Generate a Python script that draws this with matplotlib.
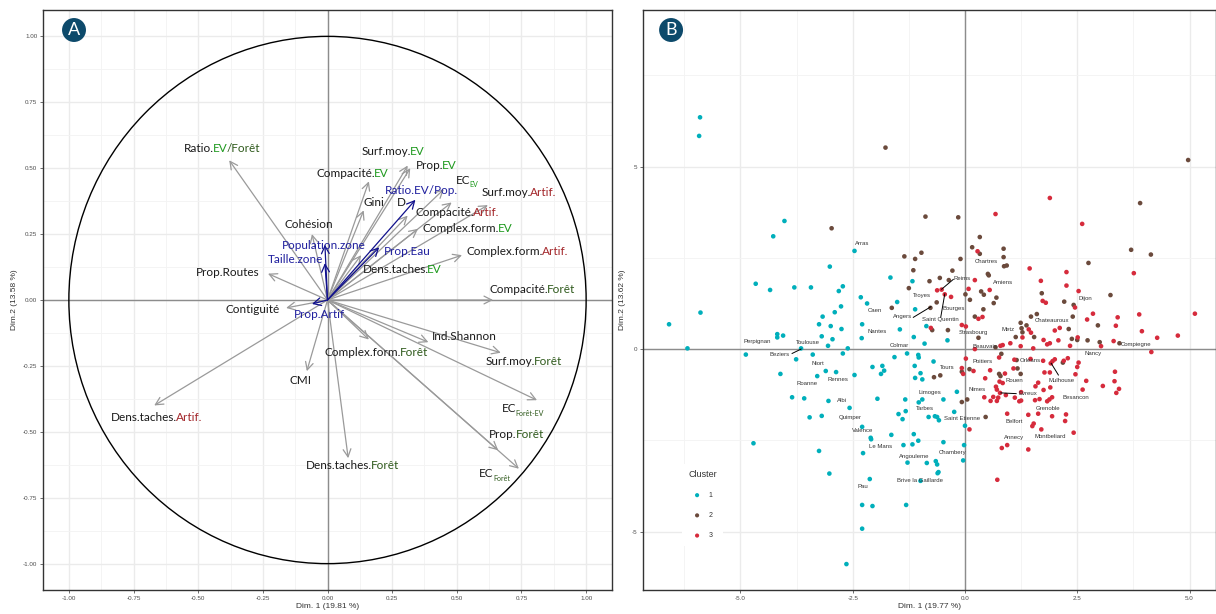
import matplotlib
matplotlib.use("Agg")
import matplotlib.pyplot as plt
import numpy as np
from matplotlib.patches import Circle
from matplotlib.ticker import MultipleLocator, FixedLocator

plt.rcParams["axes.unicode_minus"] = False

# ---------------- panel A : variables (cercle des correlations) ----------------
var_names = [
    "Ratio.EV/Forêt", "Surf.moy.EV", "Prop.EV", "Compacité.EV", "EC_EV",
    "Surf.moy.Artif.", "Compacité.Artif.", "Gini", "D", "Complex.form.EV",
    "Complex.form.Artif.", "Dens.taches.EV", "Cohésion", "Prop.Routes",
    "Compacité.Forêt", "Contiguité", "Ind.Shannon", "Complex.form.Forêt",
    "Surf.moy.Forêt", "EC_Forêt-EV", "Prop.Forêt", "EC_Forêt",
    "Dens.taches.Forêt", "CMI", "Dens.taches.Artif.",
]
var_dim1 = [-0.38, 0.31, 0.32, 0.16, 0.45, 0.62, 0.48, 0.14, 0.31, 0.35,
            0.52, 0.13, -0.06, -0.23, 0.64, -0.16, 0.39, 0.16, 0.67, 0.81,
            0.66, 0.74, 0.08, -0.08, -0.67]
var_dim2 = [0.53, 0.51, 0.50, 0.45, 0.42, 0.36, 0.37, 0.34, 0.32, 0.27,
            0.17, 0.17, 0.25, 0.10, 0.00, -0.03, -0.16, -0.15, -0.20, -0.38,
            -0.57, -0.64, -0.60, -0.27, -0.40]

sup_names = ["Ratio.EV/Pop.", "Prop.Eau", "Population.zone", "Taille.zone", "Prop.Artif"]
sup_dim1 = [0.34, 0.20, -0.01, -0.01, -0.06]
sup_dim2 = [0.38, 0.20, 0.21, 0.14, -0.015]

# label text pieces (colour key, "_" = subscript)
label_parts = {
    "Ratio.EV/Forêt": [("Ratio.", "k"), ("EV", "ev"), ("/Forêt", "fo")],
    "Surf.moy.EV": [("Surf.moy.", "k"), ("EV", "ev")],
    "Prop.EV": [("Prop.", "k"), ("EV", "ev")],
    "Compacité.EV": [("Compacité.", "k"), ("EV", "ev")],
    "EC_EV": [("EC", "k"), ("EV", "_ev")],
    "Surf.moy.Artif.": [("Surf.moy.", "k"), ("Artif.", "ar")],
    "Compacité.Artif.": [("Compacité.", "k"), ("Artif.", "ar")],
    "Gini": [("Gini", "k")],
    "D": [("D", "k")],
    "Complex.form.EV": [("Complex.form.", "k"), ("EV", "ev")],
    "Complex.form.Artif.": [("Complex.form.", "k"), ("Artif.", "ar")],
    "Dens.taches.EV": [("Dens.taches.", "k"), ("EV", "ev")],
    "Cohésion": [("Cohésion", "k")],
    "Prop.Routes": [("Prop.Routes", "k")],
    "Compacité.Forêt": [("Compacité.", "k"), ("Forêt", "fo")],
    "Contiguité": [("Contiguité", "k")],
    "Ind.Shannon": [("Ind.Shannon", "k")],
    "Complex.form.Forêt": [("Complex.form.", "k"), ("Forêt", "fo")],
    "Surf.moy.Forêt": [("Surf.moy.", "k"), ("Forêt", "fo")],
    "EC_Forêt-EV": [("EC", "k"), ("Forêt-EV", "_fo")],
    "Prop.Forêt": [("Prop.", "k"), ("Forêt", "fo")],
    "EC_Forêt": [("EC", "k"), ("Forêt", "_fo")],
    "Dens.taches.Forêt": [("Dens.taches.", "k"), ("Forêt", "fo")],
    "CMI": [("CMI", "k")],
    "Dens.taches.Artif.": [("Dens.taches.", "k"), ("Artif.", "ar")],
    "Ratio.EV/Pop.": [("Ratio.EV/Pop.", "bl")],
    "Prop.Eau": [("Prop.Eau", "bl")],
    "Population.zone": [("Population.zone", "bl")],
    "Taille.zone": [("Taille.zone", "bl")],
    "Prop.Artif": [("Prop.Artif", "bl")],
}
# left edge / vertical centre of each label (repelled position)
label_pos = {
    "Ratio.EV/Forêt": (-0.555, 0.573), "Surf.moy.EV": (0.131, 0.565),
    "Prop.EV": (0.342, 0.510), "Compacité.EV": (-0.042, 0.478),
    "EC_EV": (0.496, 0.455), "Ratio.EV/Pop.": (0.223, 0.414),
    "Surf.moy.Artif.": (0.596, 0.407), "Gini": (0.138, 0.368),
    "D": (0.269, 0.368), "Compacité.Artif.": (0.342, 0.330),
    "Cohésion": (-0.167, 0.288), "Complex.form.EV": (0.369, 0.271),
    "Population.zone": (-0.177, 0.205), "Prop.Eau": (0.217, 0.183),
    "Complex.form.Artif.": (0.537, 0.183), "Taille.zone": (-0.231, 0.153),
    "Prop.Routes": (-0.510, 0.106), "Dens.taches.EV": (0.135, 0.117),
    "Compacité.Forêt": (0.627, 0.038), "Contiguité": (-0.396, -0.035),
    "Prop.Artif": (-0.131, -0.056), "Ind.Shannon": (0.404, -0.139),
    "Complex.form.Forêt": (-0.012, -0.198), "Surf.moy.Forêt": (0.612, -0.234),
    "CMI": (-0.148, -0.307), "EC_Forêt-EV": (0.673, -0.413),
    "Dens.taches.Artif.": (-0.838, -0.447), "Prop.Forêt": (0.625, -0.512),
    "Dens.taches.Forêt": (-0.085, -0.626), "EC_Forêt": (0.587, -0.658),
}
key_colors = {"k": "#1a1a1a", "ev": "#1f9a1f", "fo": "#2f5a1c", "ar": "#a3262a", "bl": "#1f1f9e"}

# ---------------- panel B : individus (villes) ----------------
c1_x = [-5.90, -5.92, -4.02, -4.27, -2.46, -3.01, -1.66, -1.17, -4.66, -4.34, -3.80, -3.43,
        -2.72, -2.81, -2.32, -2.18, -1.51, -2.76, -2.90, -1.11, -5.89, -3.17, -6.59, -3.25,
        -2.99, -2.75, -2.29, -1.45, -0.86, -4.18, -4.18, -4.05, -3.19, -2.95, -2.30, -1.14,
        -0.90, -3.05, -6.18, -3.65, -2.61, -0.39,
        -4.88, -3.76, -3.39, -2.72, -4.11, -3.29, -3.10, -2.87, -2.46, -2.06, -1.84, -1.80,
        -1.87, -1.57, -1.29, -1.04, -1.03, -1.12, -0.99, -1.11, -0.95, -3.85, -3.58, -3.04,
        -2.57, -1.95, -1.33, -0.95, -1.03, -3.46, -3.19, -1.48, -1.32, -1.39, -0.81, -2.29,
        -2.10, -2.09, -1.64, -1.14, -1.04, -1.37, -1.17, -4.71, -3.25, -2.27, -1.28, -0.85,
        -3.02, -2.12, -0.99, -2.29, -2.06, -1.31, -2.29, -2.64,
        -0.70, -0.18, -0.48, -0.67, -0.62, -0.58, -0.24, 0.00, -0.48, -0.02, -0.04, -0.65,
        -0.62, -0.59, -0.61]
c1_y = [6.35, 5.84, 3.51, 3.09, 2.69, 2.26, 1.96, 1.86, 1.79, 1.62, 1.69, 1.69,
        1.72, 1.59, 1.42, 1.25, 1.29, 1.17, 1.01, 1.09, 1.00, 0.89, 0.68, 0.68,
        0.63, 0.55, 0.68, 0.54, 0.63, 0.41, 0.32, 0.37, 0.35, 0.27, 0.30, 0.33,
        0.15, 0.09, 0.02, 0.02, 0.02, 0.24,
        -0.15, -0.28, -0.15, -0.12, -0.68, -0.74, -0.60, -0.63, -0.71, -0.49, -0.46, -0.59,
        -0.68, -0.22, -0.12, -0.16, -0.23, -0.46, -0.66, -0.79, -0.83, -1.32, -1.35, -1.42,
        -1.61, -1.36, -1.38, -1.38, -1.46, -1.87, -1.83, -1.78, -1.70, -1.92, -1.86, -2.13,
        -2.43, -2.47, -2.35, -2.33, -2.51, -2.63, -2.61, -2.58, -2.79, -2.85, -3.11, -3.12,
        -3.41, -3.56, -3.61, -4.27, -4.30, -4.27, -4.92, -5.89,
        -0.34, -1.17, -1.38, -1.84, -1.86, -1.95, -1.72, -2.10, -2.55, -2.63, -3.05, -3.07,
        -3.16, -3.37, -3.40]

c2_x = [-1.77, -0.88, -2.97, -0.97, -1.35, -1.11, -1.15, -0.79, -1.25, -1.63,
        4.97, 3.90, -0.15, 0.33, 0.16, 0.33, 0.86, 0.86, 3.70, 4.14, -0.10, 0.87, 0.93, 2.75,
        -0.28, 0.51, 0.53, -0.56, -0.36, 0.01, 0.36, 0.42, 0.11, 0.70, 0.64, 1.71, 3.24, 2.21,
        2.42, -0.63, -0.77, 0.41, 0.22, 1.60, 1.47, 2.40, 2.96, -0.73, -0.38, 0.30, 1.24, 1.37,
        1.26, 1.28, 1.13, 1.54, 2.31, 2.38, 2.50, 2.73, 3.00, 3.44, 0.68,
        0.81, 1.15, 2.18, -0.69, -0.55, -0.07, 0.10, 0.76, 0.79, 1.17, 1.24, -0.07, 0.05, 0.46]
c2_y = [5.52, 3.63, 3.31, 2.64, 2.54, 2.47, 2.16, 1.86, 1.67, 1.13,
        5.18, 4.00, 3.61, 3.07, 2.79, 2.61, 2.75, 2.52, 2.72, 2.59, 2.47, 2.27, 2.29, 2.36,
        2.15, 2.06, 2.02, 1.95, 1.89, 1.50, 1.58, 1.49, 1.35, 1.41, 1.26, 1.53, 1.48, 1.30,
        1.21, 1.28, 1.13, 1.09, 0.89, 0.96, 0.89, 0.89, 0.65, 0.52, 0.52, 0.31, 0.72, 0.65,
        0.57, 0.46, 0.33, 0.33, 0.55, 0.28, 0.25, 0.24, 0.19, 0.16, 0.05,
        -0.13, -0.30, -0.37, -0.77, -0.72, -0.62, -0.55, -0.68, -0.74, -0.53, -0.68, -1.45, -1.38, -1.86]

c3_x = [1.89, 0.68, 2.61, 0.28, 1.44, 2.26, 3.76, 0.22, 1.69, 2.26, -0.62, -0.52, -0.45,
        -0.31, 0.08, 0.55, 2.53, 1.73, 1.80, 2.45, 0.30, 0.39, 2.85, 2.72, 3.40, 3.88, 5.12,
        3.36, 3.94, 4.28, 4.74, -0.76, -0.07, 0.02, 1.28, 1.42, 1.47, 2.00, 2.11, 1.75, 1.83,
        1.89, 2.08, 2.51, 2.34, 3.03, 3.31, 0.79, 0.84, 1.01, 1.24, 1.52,
        0.02, 0.22, 0.76, 1.10, 1.46, 1.74, 1.91, 1.95, 2.00, 2.20, 2.29, 2.53, 2.50, -0.07,
        -0.04, 0.19, 0.45, 0.56, 0.77, 0.84, 0.89, 1.08, 1.77, 1.89, 2.46, 2.70, 3.34, 3.33,
        3.07, 3.43, 3.37, 2.62, 4.15, 1.63, 1.57, 1.75, 1.90, 0.69, 0.71, 0.43, 0.63, 0.74,
        0.57, 0.71, 0.78, 0.91, 1.11, 1.21, 1.25, 1.25, 1.56, 1.66, 1.83, 1.88, 1.94, 0.94,
        1.41, 1.63, 1.94, 2.25, 2.23, 1.53, 1.50, 1.70, 2.42, 0.10, 0.94, 0.82, 1.41, 0.72]
c3_y = [4.14, 3.70, 3.43, 2.68, 2.21, 2.11, 2.08, 1.89, 1.87, 1.74, 1.61, 1.63, 1.50,
        1.43, 1.65, 1.62, 1.59, 1.32, 1.27, 1.14, 0.83, 0.88, 0.97, 0.81, 0.87, 0.95, 0.97,
        0.64, 0.49, 0.31, 0.37, 0.58, 0.66, 0.62, 0.32, 0.54, 0.45, 0.51, 0.58, 0.25, 0.13,
        0.16, 0.24, 0.32, 0.09, 0.08, 0.22, 0.09, 0.11, 0.16, 0.08, 0.02,
        -0.26, 0.00, -0.23, -0.29, -0.27, -0.32, -0.39, -0.33, -0.28, -0.32, -0.25, -0.37, -0.49, -0.52,
        -0.68, -0.60, -0.80, -0.58, -0.89, -0.93, -0.67, -0.53, -0.64, -0.64, -0.69, -0.87, -0.62, -0.88,
        -1.01, -1.09, -1.20, -1.11, -0.08, -0.92, -1.02, -1.12, -1.05, -1.03, -1.11, -1.32, -1.31, -1.33,
        -1.42, -1.42, -1.20, -1.26, -1.33, -1.43, -1.41, -1.18, -1.40, -1.37, -1.43, -1.38, -1.32, -1.77,
        -1.80, -1.77, -1.84, -1.79, -1.97, -2.04, -2.11, -2.20, -2.29, -2.20, -2.63, -2.71, -2.75, -3.58]

cities = ["Arras", "Caen", "Angers", "Troyes", "Reims", "Bourges", "Saint Quentin",
          "Chartres", "Amiens", "Dijon", "Chateauroux", "Metz", "Strasbourg", "Beauvais",
          "Compiegne", "Nancy", "Nantes", "Colmar", "Perpignan", "Toulouse", "Beziers",
          "Niort", "Rennes", "Roanne", "Albi", "Quimper", "Valence", "Le Mans", "Pau",
          "Brive la Gaillarde", "Angouleme", "Chambery", "Limoges", "Tarbes", "Saint Etienne",
          "Tours", "Poitiers", "Orleans", "Nimes", "Rouen", "Evreux", "Mulhouse", "Besancon",
          "Grenoble", "Belfort", "Annecy", "Montbeliard"]
city_lab_x = [-2.30, -2.00, -1.40, -0.96, -0.06, -0.26, -0.54, 0.47, 0.85, 2.69, 1.94, 0.96,
              0.19, 0.45, 3.80, 2.86, -1.96, -1.47, -4.62, -3.49, -4.13, -3.27, -2.84, -3.52,
              -2.73, -2.55, -2.27, -1.89, -2.27, -1.00, -1.12, -0.27, -0.79, -0.90, -0.07,
              -0.39, 0.40, 1.45, 0.26, 1.10, 1.40, 2.15, 2.47, 1.84, 1.09, 1.10, 1.89]
city_lab_y = [2.88, 1.05, 0.88, 1.46, 1.93, 1.12, 0.80, 2.39, 1.82, 1.38, 0.78, 0.53,
              0.46, 0.08, 0.12, -0.13, 0.47, 0.09, 0.21, 0.17, -0.16, -0.40, -0.84, -0.95,
              -1.42, -1.88, -2.24, -2.68, -3.77, -3.61, -2.93, -2.84, -1.18, -1.64, -1.91,
              -0.51, -0.35, -0.32, -1.10, -0.87, -1.22, -0.87, -1.33, -1.64, -1.99, -2.43, -2.40]
# leader segments: (label side x, y, point x, y)
leaders = [(-1.15, 0.87, -0.76, 1.16), (-0.26, 1.91, -0.52, 1.64), (-0.54, 0.87, -0.45, 1.51),
           (-3.85, -0.12, -3.65, 0.00), (1.14, -1.22, 0.80, -1.20), (2.08, -0.71, 1.92, -0.39)]

cluster_colors = ["#00AFBB", "#6B4A3C", "#D62B3C"]
FONT_A = ["Lato", "DejaVu Sans"]
FONT_S = ["Liberation Sans", "DejaVu Sans"]
GRID_MAJ = "#ebebeb"
GRID_MIN = "#f3f3f3"


def rich_label(ax, x, y, parts, size):
    txt, key = parts[0]
    t = ax.text(x, y, txt, color=key_colors[key], fontsize=size, ha="left", va="center",
                family=FONT_A, zorder=5)
    for txt, key in parts[1:]:
        if key.startswith("_"):
            t = ax.annotate(txt, xy=(1, 0), xycoords=t, va="bottom", ha="left",
                            xytext=(-0.6, -2.0), textcoords="offset points",
                            color=key_colors[key[1:]], fontsize=size * 0.6, family=FONT_A, zorder=5)
        else:
            t = ax.annotate(txt, xy=(1, 0), xycoords=t, va="bottom", ha="left",
                            xytext=(-0.9, 0), textcoords="offset points",
                            color=key_colors[key], fontsize=size, family=FONT_A, zorder=5)


def badge(ax, x, y, letter):
    ax.text(x, y, letter, transform=ax.transAxes, ha="center", va="center", color="white",
            fontsize=13, family=FONT_A, zorder=10,
            bbox=dict(boxstyle="circle,pad=0.22", fc="#0d4a6b", ec="none"))


def style_axes(ax):
    for sp in ax.spines.values():
        sp.set_color("#333333")
        sp.set_linewidth(1.0)
    ax.grid(which="major", color=GRID_MAJ, lw=1.0, zorder=0)
    ax.grid(which="minor", color=GRID_MIN, lw=0.6, zorder=0)
    ax.set_axisbelow(True)
    ax.tick_params(which="major", length=2, width=0.5, color="#333333",
                   labelsize=4.5, labelcolor="#4d4d4d", pad=2)
    ax.tick_params(which="minor", length=0)
    for lab in ax.get_xticklabels() + ax.get_yticklabels():
        lab.set_family(FONT_S)


fig = plt.figure(figsize=(12.16, 6.14), dpi=100)

# ---------------- A ----------------
axA = fig.add_axes([43 / 1216, 24 / 614, 569 / 1216, 580 / 614])
axA.set_xlim(-1.1, 1.1)
axA.set_ylim(-1.1, 1.1)
axA.xaxis.set_major_locator(MultipleLocator(0.25))
axA.yaxis.set_major_locator(MultipleLocator(0.25))
axA.xaxis.set_minor_locator(MultipleLocator(0.125))
axA.yaxis.set_minor_locator(MultipleLocator(0.125))
axA.xaxis.set_major_formatter(lambda v, p: f"{v:.2f}")
axA.yaxis.set_major_formatter(lambda v, p: f"{v:.2f}")
style_axes(axA)
axA.axhline(0, color="#8c8c8c", lw=1.0, zorder=1)
axA.axvline(0, color="#8c8c8c", lw=1.0, zorder=1)
axA.add_patch(Circle((0, 0), 1.0, fill=False, ec="black", lw=1.0, zorder=2))

for name, x, y in zip(var_names, var_dim1, var_dim2):
    axA.annotate("", xy=(x, y), xytext=(0, 0),
                 arrowprops=dict(arrowstyle="->,head_length=0.55,head_width=0.28",
                                 color="#9a9a9a", lw=0.9, shrinkA=0, shrinkB=0), zorder=3)
for name, x, y in zip(sup_names, sup_dim1, sup_dim2):
    axA.annotate("", xy=(x, y), xytext=(0, 0),
                 arrowprops=dict(arrowstyle="->,head_length=0.55,head_width=0.28",
                                 color="#10108c", lw=0.9, shrinkA=0, shrinkB=0), zorder=4)
for name in var_names + sup_names:
    lx, ly = label_pos[name]
    rich_label(axA, lx, ly, label_parts[name], 8.5)

axA.set_xlabel("Dim. 1 (19.81 %)", fontsize=6, family=FONT_S, color="#333333", labelpad=2)
axA.set_ylabel("Dim.2 (13.58 %)", fontsize=6, family=FONT_S, color="#333333", labelpad=4)
badge(axA, 0.0545, 0.9655, "A")

# ---------------- B ----------------
axB = fig.add_axes([643 / 1216, 24 / 614, 573 / 1216, 580 / 614])
axB.set_xlim(-7.17, 5.59)
axB.set_ylim(-6.6, 9.29)
axB.xaxis.set_major_locator(MultipleLocator(2.5))
axB.xaxis.set_minor_locator(MultipleLocator(1.25))
axB.yaxis.set_major_locator(MultipleLocator(5))
axB.yaxis.set_minor_locator(MultipleLocator(2.5))
axB.xaxis.set_major_formatter(lambda v, p: f"{v:.1f}")
axB.yaxis.set_major_formatter(lambda v, p: f"{v:.0f}")
style_axes(axB)
axB.axhline(0, color="#8c8c8c", lw=1.0, zorder=1)
axB.axvline(0, color="#8c8c8c", lw=1.0, zorder=1)

for lab, xs, ys, col in zip(["1", "2", "3"], [c1_x, c2_x, c3_x], [c1_y, c2_y, c3_y], cluster_colors):
    axB.scatter(xs, ys, s=11, color=col, edgecolors="none", label=lab, zorder=3)

for x0, y0, x1, y1 in leaders:
    axB.plot([x0, x1], [y0, y1], color="black", lw=0.7, zorder=4)
for name, x, y in zip(cities, city_lab_x, city_lab_y):
    axB.text(x, y, name, fontsize=4.3, ha="center", va="center", color="#333333",
             family=FONT_S, zorder=5)

leg = axB.legend(title="Cluster", loc="upper left", bbox_to_anchor=(0.062, 0.224),
                 frameon=True, facecolor="white", edgecolor="none", framealpha=1,
                 fontsize=5, title_fontsize=6.5, labelspacing=1.9, handletextpad=1.0,
                 borderpad=0.9, markerscale=0.9, handlelength=1.2)
leg.get_frame().set_boxstyle("square", pad=0)
for t in leg.get_texts():
    t.set_family(FONT_S)
    t.set_color("#333333")
leg.get_title().set_family(FONT_S)
leg.get_title().set_color("#333333")

axB.set_xlabel("Dim. 1 (19.77 %)", fontsize=6, family=FONT_S, color="#333333", labelpad=2)
axB.set_ylabel("Dim.2 (13.62 %)", fontsize=6, family=FONT_S, color="#333333", labelpad=4)
badge(axB, 0.049, 0.9655, "B")

fig.savefig("out.png", dpi=100, facecolor="white")
